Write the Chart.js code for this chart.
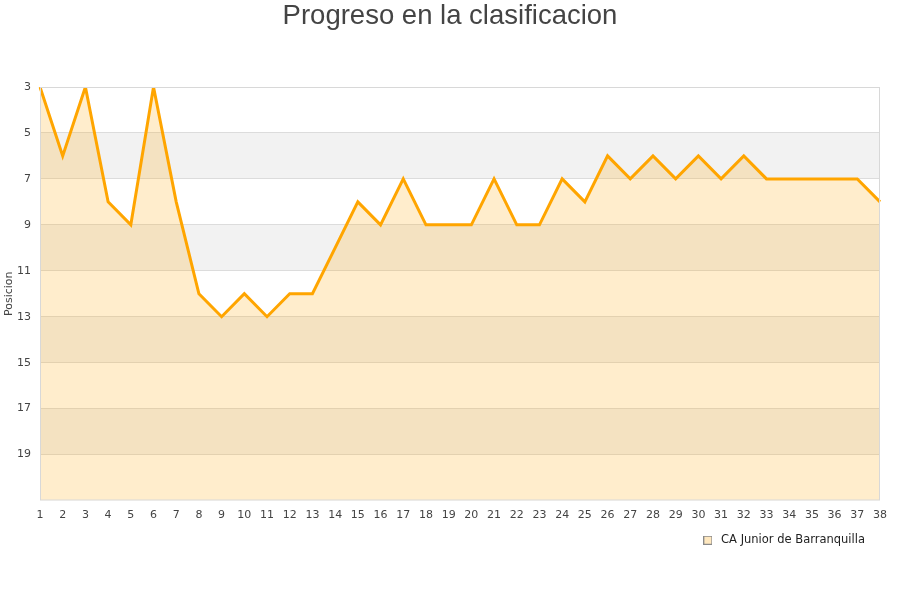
<!DOCTYPE html>
<html><head><meta charset="utf-8">
<script src="https://cdn.jsdelivr.net/npm/chart.js@4.4.1/dist/chart.umd.min.js"></script>
<style>html,body{margin:0;padding:0;background:#fff}#wrap{width:900px;height:600px}</style>
</head><body><div id="wrap"><canvas id="c" width="900" height="600"></canvas></div>
<script>
const jornadas = ["1","2","3","4","5","6","7","8","9","10","11","12","13","14","15","16","17","18","19","20","21","22","23","24","25","26","27","28","29","30","31","32","33","34","35","36","37","38"];
const posiciones = [3,6,3,8,9,3,8,12,13,12,13,12,12,10,8,9,7,9,9,9,7,9,9,7,8,6,7,6,7,6,7,6,7,7,7,7,7,8];
const serieNombre = "CA Junior de Barranquilla";
const tituloTexto = "Progreso en la clasificacion";
const ejeY = "Posicion";
const yMin = 3, yMax = 21, yPaso = 2;

const legendBox = document.createElement('canvas');
legendBox.width = 9; legendBox.height = 9;
(function(){
  const c = legendBox.getContext('2d');
  c.fillStyle = 'rgba(255,165,0,0.25)';
  c.fillRect(0, 0, 9, 9);
  c.strokeStyle = '#8a8a8a';
  c.lineWidth = 1;
  c.strokeRect(0.5, 0.5, 8, 8);
})();

const bandPlugin = {
  id: 'bands',
  beforeDraw(chart) {
    const {ctx, chartArea: a, scales: {y}} = chart;
    ctx.save();
    ctx.fillStyle = '#ffffff';
    ctx.fillRect(a.left, a.top, a.right - a.left, a.bottom - a.top);
    ctx.fillStyle = '#f2f2f2';
    let i = 0;
    for (let v = yMin; v < yMax; v += yPaso, i++) {
      if (i % 2 === 1) {
        const p1 = y.getPixelForValue(v), p2 = y.getPixelForValue(v + yPaso);
        ctx.fillRect(a.left, Math.min(p1, p2), a.right - a.left, Math.abs(p2 - p1));
      }
    }
    ctx.restore();
  },
  afterDraw(chart) {
    const {ctx, chartArea: a} = chart;
    ctx.save();
    ctx.strokeStyle = '#d8d8d8';
    ctx.lineWidth = 1;
    ctx.strokeRect(a.left + 0.5, a.top + 0.5, a.right - a.left - 1, a.bottom - a.top - 1);
    ctx.fillStyle = '#444';
    ctx.font = '27.5px "Liberation Sans", Arial, sans-serif';
    ctx.textAlign = 'center';
    ctx.textBaseline = 'middle';
    ctx.fillText(tituloTexto, chart.width / 2, 16);
    ctx.restore();
  }
};

new Chart(document.getElementById('c'), {
  type: 'line',
  data: {
    labels: jornadas,
    datasets: [{
      label: serieNombre,
      data: posiciones,
      borderColor: '#FFA500',
      backgroundColor: 'rgba(255,165,0,0.2)',
      borderWidth: 3,
      pointRadius: 0,
      fill: {value: yMax},
      tension: 0
    }]
  },
  options: {
    responsive: false,
    animation: false,
    layout: {padding: {left: 0, right: 20, top: 87, bottom: 44}},
    plugins: {
      title: {display: false},
      legend: {
        position: 'bottom', align: 'end',
        labels: {
          font: {family: 'DejaVu Sans', size: 11.5}, color: '#222',
          usePointStyle: true, pointStyleWidth: 15, boxHeight: 9, padding: 15,
          generateLabels(chart) {
            return [{text: serieNombre, pointStyle: legendBox, fillStyle: 'rgba(255,165,0,0.2)', strokeStyle: '#8a8a8a', lineWidth: 1, hidden: false, datasetIndex: 0, fontColor: '#222'}];
          }
        }
      },
      tooltip: {enabled: false}
    },
    scales: {
      x: {
        offset: false,
        grid: {display: false},
        border: {display: false},
        afterFit(scale) { scale.height = 19; },
        ticks: {font: {family: 'DejaVu Sans', size: 11}, color: '#444', maxRotation: 0, autoSkip: false, padding: 0}
      },
      y: {
        reverse: true, min: yMin, max: yMax,
        afterBuildTicks(scale) {
          const t = [];
          for (let v = yMin; v < yMax; v += yPaso) t.push({value: v});
          scale.ticks = t;
        },
        afterFit(scale) { scale.width = 40; },
        grid: {color: '#dcdcdc', drawTicks: false},
        border: {display: false},
        ticks: {font: {family: 'DejaVu Sans', size: 11}, color: '#444', padding: 9},
        title: {display: true, text: ejeY, font: {family: 'DejaVu Sans', size: 11}, color: '#444', padding: {top: 3, bottom: 0}}
      }
    }
  },
  plugins: [bandPlugin]
});
</script></body></html>
